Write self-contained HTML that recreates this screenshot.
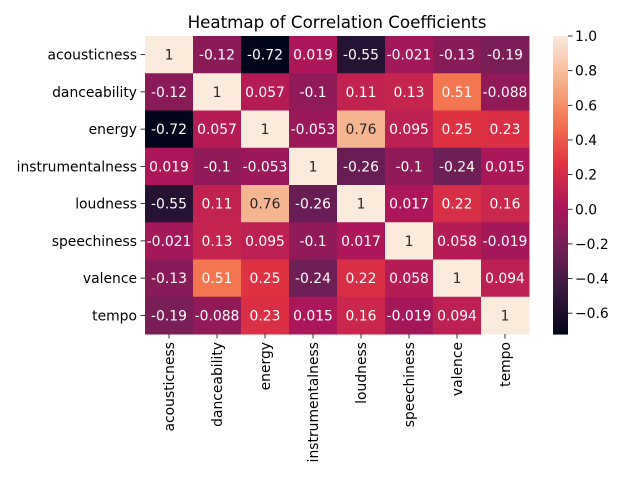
<!DOCTYPE html>
<html><head><meta charset="utf-8"><style>
body{margin:0;background:#fff;}
svg{font-family:"DejaVu Sans","Liberation Sans",sans-serif;}
</style></head><body>
<svg id="chart" width="640" height="480" viewBox="0 0 640 480" xmlns="http://www.w3.org/2000/svg">
<text x="337" y="28" font-size="16.7" text-anchor="middle" fill="#000">Heatmap of Correlation Coefficients</text>
<g id="cells"></g><g id="axes"></g><g id="cbar"></g>
</svg>
<script>
const labels = ["acousticness","danceability","energy","instrumentalness","loudness","speechiness","valence","tempo"];
const row0 = [1,-0.12,-0.72,0.019,-0.55,-0.021,-0.13,-0.19];
const row1 = [-0.12,1,0.057,-0.1,0.11,0.13,0.51,-0.088];
const row2 = [-0.72,0.057,1,-0.053,0.76,0.095,0.25,0.23];
const row3 = [0.019,-0.1,-0.053,1,-0.26,-0.1,-0.24,0.015];
const row4 = [-0.55,0.11,0.76,-0.26,1,0.017,0.22,0.16];
const row5 = [-0.021,0.13,0.095,-0.1,0.017,1,0.058,-0.019];
const row6 = [-0.13,0.51,0.25,-0.24,0.22,0.058,1,0.094];
const row7 = [-0.19,-0.088,0.23,0.015,0.16,-0.019,0.094,1];
const matrix = [row0,row1,row2,row3,row4,row5,row6,row7];
const cbarTicks = [1.0,0.8,0.6,0.4,0.2,0.0,-0.2,-0.4,-0.6];
const vmin = -0.72, vmax = 1.0;

const L=145,T=36,W=384,H=298;
const cw=W/labels.length, ch=H/labels.length;
const stops=[[0,"#03051a"],[0.143,"#35193e"],[0.286,"#701f57"],[0.429,"#ad1759"],[0.571,"#e13342"],[0.714,"#f37651"],[0.857,"#f6b48f"],[1,"#faebdd"]];
function hex(h){return [1,3,5].map(i=>parseInt(h.substr(i,2),16));}
function cmapRGB(v){
  let t=(v-vmin)/(vmax-vmin); t=Math.max(0,Math.min(1,t));
  for(let i=1;i<stops.length;i++){ if(t<=stops[i][0]){
    const a=stops[i-1],b=stops[i],f=(t-a[0])/(b[0]-a[0]);
    const ca=hex(a[1]),cb=hex(b[1]);
    return ca.map((c,k)=>Math.round(c+(cb[k]-c)*f));}}
  return hex(stops[stops.length-1][1]);
}
function lum(rgb){const c=rgb.map(x=>{x/=255;return x<=0.03928?x/12.92:Math.pow((x+0.055)/1.055,2.4);});return 0.2126*c[0]+0.7152*c[1]+0.0722*c[2];}
const NS="http://www.w3.org/2000/svg";
function mk(tag,attrs,parent){const e=document.createElementNS(NS,tag);for(const k in attrs)e.setAttribute(k,attrs[k]);parent.appendChild(e);return e;}
const xs=i=>L+i*cw, ys=j=>T+j*ch;
const cells=document.getElementById("cells"), axes=document.getElementById("axes"), cbar=document.getElementById("cbar");
matrix.forEach((row,j)=>row.forEach((v,i)=>{
  const rgb=cmapRGB(v);
  const r=mk("rect",{x:xs(i),y:ys(j),width:cw+0.5,height:ch+0.5,fill:`rgb(${rgb})`},cells);
  
  
  const t=mk("text",{x:xs(i)+cw/2,y:ys(j)+ch/2+5,"font-size":"13.9","text-anchor":"middle",fill:lum(rgb)>0.33?"#262626":"#fff"},cells);
  t.textContent=String(v);
  
  
}));
labels.forEach((lab,j)=>{
  const y=ys(j)+ch/2;
  mk("line",{x1:L-4.5,x2:L,y1:y,y2:y,stroke:"#000","stroke-width":"0.8"},axes);
  const t=mk("text",{x:L-8,y:y+5,"font-size":"13.9","text-anchor":"end"},axes);
  t.textContent=lab;
  
  
  const x=xs(j)+cw/2;
  mk("line",{x1:x,x2:x,y1:T+H,y2:T+H+4.5,stroke:"#000","stroke-width":"0.8"},axes);
  const tx=mk("text",{x:0,y:0,"font-size":"13.9","text-anchor":"end",transform:`translate(${x+5},${T+H+8}) rotate(-90)`},axes);
  tx.textContent=lab;
  
  
});
const CL=553,CW=15,N=120;
const cy=v=>T+(vmax-v)/(vmax-vmin)*H;
for(let k=0;k<N;k++){
  const v=vmax-(k+0.5)*(vmax-vmin)/N;
  mk("rect",{x:CL,y:T+k*H/N,width:CW,height:H/N+0.6,fill:`rgb(${cmapRGB(v)})`},cbar);
}
cbarTicks.forEach(v=>{
  const y=cy(v);
  mk("line",{x1:CL+CW,x2:CL+CW+4.5,y1:y,y2:y,stroke:"#000","stroke-width":"0.8"},cbar);
  const t=mk("text",{x:CL+CW+7,y:y+5,"font-size":"13.9"},cbar);
  t.textContent=(v<0?"\u2212":"")+Math.abs(v).toFixed(1);
  
  
});
</script>
</body></html>
